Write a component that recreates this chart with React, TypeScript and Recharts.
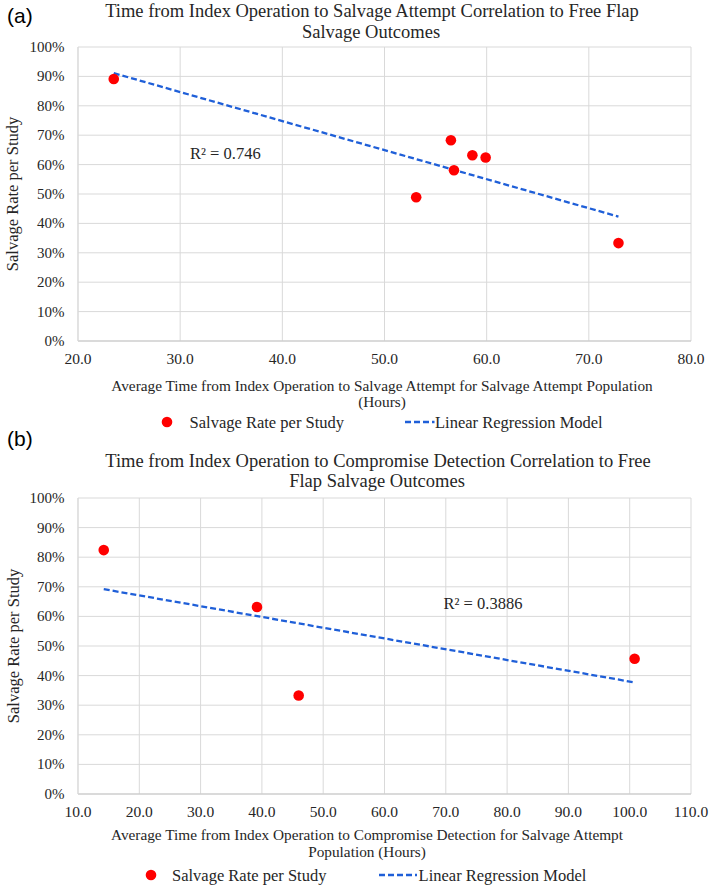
import React from 'react';
import { ScatterChart, Scatter, XAxis, YAxis, CartesianGrid } from 'recharts';

// ---------- data ----------
const aHours = [23.5, 53.1, 56.5, 56.8, 58.6, 59.9, 72.9];
const aRate = [89.1, 48.9, 68.3, 58.1, 63.2, 62.4, 33.3];
const aTrendHours = [23.5, 72.9];
const aTrendRate = [91.1, 42.3];
const aXTicks = [20, 30, 40, 50, 60, 70, 80];

const bHours = [14.2, 39.2, 46.0, 100.8];
const bRate = [82.4, 63.2, 33.3, 45.7];
const bTrendHours = [14.2, 100.8];
const bTrendRate = [69.2, 37.7];
const bXTicks = [10, 20, 30, 40, 50, 60, 70, 80, 90, 100, 110];

const yTicks = [0, 10, 20, 30, 40, 50, 60, 70, 80, 90, 100];

const aTitle = ['Time from Index Operation to Salvage Attempt Correlation to Free Flap', 'Salvage Outcomes'];
const bTitle = ['Time from Index Operation to Compromise Detection Correlation to Free', 'Flap Salvage Outcomes'];
const aXLabel = ['Average Time from Index Operation to Salvage Attempt for Salvage Attempt Population', '(Hours)'];
const bXLabel = ['Average Time from Index Operation to Compromise Detection for Salvage Attempt', 'Population (Hours)'];
const yLabel = 'Salvage Rate per Study';
const seriesNames = ['Salvage Rate per Study', 'Linear Regression Model'];
const aR2 = 'R² = 0.746';
const bR2 = 'R² = 0.3886';

const zip = (xs: number[], ys: number[]) => xs.map((x, i) => ({ x, y: ys[i] }));

// ---------- styles ----------
const SERIF = '"Liberation Serif", "Times New Roman", serif';
const SANS = '"Liberation Sans", Arial, sans-serif';
const RED = '#ff0000';
const BLUE = '#1f5fd8';
const GRID = '#d9d9d9';
const TXT = '#262626';

const XTick = (props: any) => {
  const { x, y, payload } = props;
  return (
    <text x={x} y={y + 23} textAnchor="middle" fontFamily={SERIF} fontSize={15.5} fill={TXT}>
      {Number(payload.value).toFixed(1)}
    </text>
  );
};

const YTick = (props: any) => {
  const { x, y, payload } = props;
  return (
    <text x={x - 13.5} y={y + 5} textAnchor="end" fontFamily={SERIF} fontSize={15} fill={TXT}>
      {payload.value}%
    </text>
  );
};

type PanelProps = {
  plotTop: number;
  plotBottom: number;
  xTicks: number[];
  pts: { x: number; y: number }[];
  trend: { x: number; y: number }[];
};

const Panel = ({ plotTop, plotBottom, xTicks, pts, trend }: PanelProps) => {
  const offset = 10;
  const xAxisH = 30;
  const h = plotBottom - plotTop + offset + xAxisH;
  return (
    <div style={{ position: 'absolute', left: 0, top: plotTop - offset, width: 709, height: h }}>
      <ScatterChart width={709} height={h} margin={{ top: offset, right: 18, bottom: 0, left: 0 }}>
        <CartesianGrid stroke={GRID} strokeWidth={1} />
        <XAxis
          type="number"
          dataKey="x"
          domain={[xTicks[0], xTicks[xTicks.length - 1]]}
          ticks={xTicks}
          allowDataOverflow
          tickLine={false}
          tickSize={0}
          tickMargin={0}
          axisLine={{ stroke: '#c8c8c8' }}
          tick={(p: any) => <XTick {...p} />}
          height={xAxisH}
          interval={0}
        />
        <YAxis
          type="number"
          dataKey="y"
          domain={[0, 100]}
          ticks={yTicks}
          allowDataOverflow
          tickLine={false}
          tickSize={0}
          tickMargin={0}
          axisLine={{ stroke: GRID }}
          tick={(p: any) => <YTick {...p} />}
          width={78}
          interval={0}
        />
        <Scatter
          data={trend}
          line={{ stroke: BLUE, strokeWidth: 2.3, strokeDasharray: '6 3' }}
          shape={() => <g />}
          isAnimationActive={false}
        />
        <Scatter
          data={pts}
          fill={RED}
          shape={(p: any) => <ellipse cx={p.cx} cy={p.cy} rx={5.3} ry={5.3} fill={RED} />}
          isAnimationActive={false}
        />
      </ScatterChart>
    </div>
  );
};

const Legend = ({ dotX, y, text1X, dashX1, dashX2, text2X }: any) => (
  <g>
    <circle cx={dotX} cy={y} r={5.3} fill={RED} />
    <text x={text1X} y={y + 5.5} fontFamily={SERIF} fontSize={16.5} fill={TXT}>{seriesNames[0]}</text>
    <line x1={dashX1} y1={y} x2={dashX2} y2={y} stroke={BLUE} strokeWidth={2.3} strokeDasharray="6 3" />
    <text x={text2X} y={y + 5.5} fontFamily={SERIF} fontSize={16.5} fill={TXT}>{seriesNames[1]}</text>
  </g>
);

const TwoLine = ({ lines, x1, x2, y1, y2, size }: any) => (
  <text textAnchor="middle" fontFamily={SERIF} fontSize={size} fill={TXT}>
    <tspan x={x1} y={y1}>{lines[0]}</tspan>
    <tspan x={x2} y={y2}>{lines[1]}</tspan>
  </text>
);

export default function App() {
  return (
    <div style={{ position: 'absolute', left: 0, top: 0, width: 709, height: 887, background: '#fff' }}>
      <Panel plotTop={47} plotBottom={341} xTicks={aXTicks} pts={zip(aHours, aRate)} trend={zip(aTrendHours, aTrendRate)} />
      <Panel plotTop={498} plotBottom={794} xTicks={bXTicks} pts={zip(bHours, bRate)} trend={zip(bTrendHours, bTrendRate)} />
      <svg width={709} height={887} style={{ position: 'absolute', left: 0, top: 0, pointerEvents: 'none' }}>
        {/* panel labels */}
        <text x={7} y={23} fontFamily={SANS} fontSize={21} fill="#000">(a)</text>
        <text x={7} y={446} fontFamily={SANS} fontSize={21} fill="#000">(b)</text>
        {/* titles */}
        <TwoLine lines={aTitle} x1={372} x2={371} y1={17} y2={37.5} size={18.5} />
        <TwoLine lines={bTitle} x1={378} x2={377} y1={466.5} y2={487} size={18.5} />
        {/* y labels */}
        <text transform="translate(18,194) rotate(-90)" textAnchor="middle" fontFamily={SERIF} fontSize={16.5} fill={TXT}>{yLabel}</text>
        <text transform="translate(19,646) rotate(-90)" textAnchor="middle" fontFamily={SERIF} fontSize={16.5} fill={TXT}>{yLabel}</text>
        {/* x labels */}
        <TwoLine lines={aXLabel} x1={382} x2={382} y1={391} y2={407} size={15.3} />
        <TwoLine lines={bXLabel} x1={367} x2={367} y1={840} y2={857} size={15.3} />
        {/* R² */}
        <text x={190} y={159} fontFamily={SERIF} fontSize={16.5} fill={TXT}>{aR2}</text>
        <text x={443.5} y={609} fontFamily={SERIF} fontSize={16.5} fill={TXT}>{bR2}</text>
        {/* legends */}
        <Legend dotX={167} y={422} text1X={189.6} dashX1={405} dashX2={434.5} text2X={435} />
        <Legend dotX={151} y={875} text1X={172} dashX1={379} dashX2={417} text2X={418.6} />
      </svg>
    </div>
  );
}
